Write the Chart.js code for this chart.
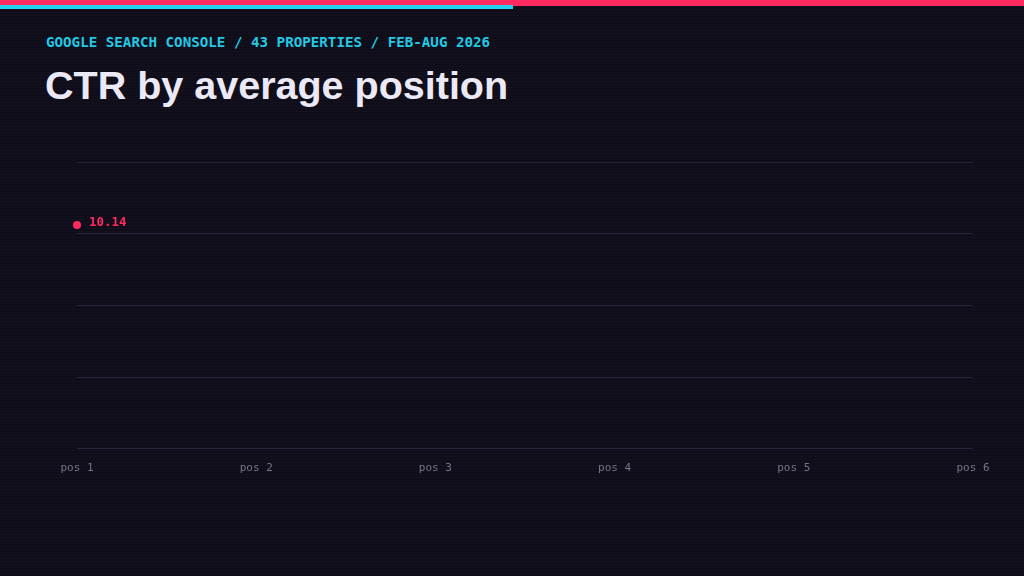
<!DOCTYPE html>
<html>
<head>
<meta charset="utf-8">
<script src="https://cdn.jsdelivr.net/npm/chart.js@4/dist/chart.umd.min.js"></script>
<style>
  html, body { margin: 0; padding: 0; }
  body {
    width: 1024px; height: 576px; overflow: hidden; position: relative;
    background-color: #0f0d19;
    background-image: repeating-linear-gradient(to bottom, rgba(255,255,255,0.018) 0px, rgba(255,255,255,0.018) 1px, rgba(0,0,0,0) 1px, rgba(0,0,0,0) 3px);
  }
  .bar-pink { position: absolute; left: 0; top: 0; width: 1024px; height: 6px; background: #ff2a5f; }
  .bar-cyan { position: absolute; left: 0; top: 5px; width: 513px; height: 4px; background: #22d3ee; }
  .sub {
    position: absolute; left: 46px; top: 34px;
    font-family: "DejaVu Sans Mono", monospace; font-size: 14.2px; font-weight: bold;
    color: #22c8e4; letter-spacing: 0;
  }
  .title {
    position: absolute; left: 45px; top: 63px;
    font-family: "Liberation Sans", Arial, sans-serif; font-size: 39.5px; font-weight: bold;
    color: #ece9f6;
  }
  #wrap { position: absolute; left: 0; top: 0; width: 1024px; height: 576px; }
</style>
</head>
<body>
<div class="bar-pink"></div>
<div class="bar-cyan"></div>
<div class="sub">GOOGLE SEARCH CONSOLE / 43 PROPERTIES / FEB-AUG 2026</div>
<div class="title">CTR by average position</div>
<div id="wrap"><canvas id="ctrChart"></canvas></div>
<script>
var positions = ['pos 1', 'pos 2', 'pos 3', 'pos 4', 'pos 5', 'pos 6'];
var ctrValues = [10.14, null, null, null, null, null];
var yMin = 0;
var yMax = 13;
var yStep = 3.25;

// writes the value next to each drawn point
var valueLabels = {
  id: 'valueLabels',
  afterDatasetsDraw: function(chart) {
    var ctx = chart.ctx;
    var meta = chart.getDatasetMeta(0);
    ctx.save();
    ctx.font = 'bold 12.5px "DejaVu Sans Mono", monospace';
    ctx.fillStyle = '#ff2a5f';
    ctx.textBaseline = 'middle';
    meta.data.forEach(function(pt, i) {
      var v = ctrValues[i];
      if (v === null || v === undefined) return;
      ctx.fillText(v.toFixed(2), pt.x + 12, pt.y - 2);
    });
    ctx.restore();
  }
};

var ctx = document.getElementById('ctrChart').getContext('2d');
var myChart = new Chart(ctx, {
  type: 'line',
  data: {
    labels: positions,
    datasets: [{
      label: 'CTR',
      data: ctrValues,
      borderColor: '#ff2a5f',
      backgroundColor: '#ff2a5f',
      pointRadius: 4,
      pointBorderWidth: 0,
      borderWidth: 2,
      spanGaps: false
    }]
  },
  options: {
    responsive: true,
    maintainAspectRatio: false,
    animation: false,
    layout: { padding: { top: 162, left: 77, right: 51, bottom: 96 } },
    plugins: {
      legend: { display: false },
      tooltip: { enabled: false }
    },
    scales: {
      x: {
        offset: false,
        grid: { display: false },
        border: { display: false },
        ticks: {
          color: '#77738a',
          padding: 5,
          maxRotation: 0,
          font: { family: '"DejaVu Sans Mono", monospace', size: 11 }
        }
      },
      y: {
        min: yMin,
        max: yMax,
        grid: { color: '#25223a', lineWidth: 1, drawTicks: false },
        border: { display: false },
        ticks: { display: false, stepSize: yStep }
      }
    }
  },
  plugins: [valueLabels]
});
</script>
</body>
</html>
